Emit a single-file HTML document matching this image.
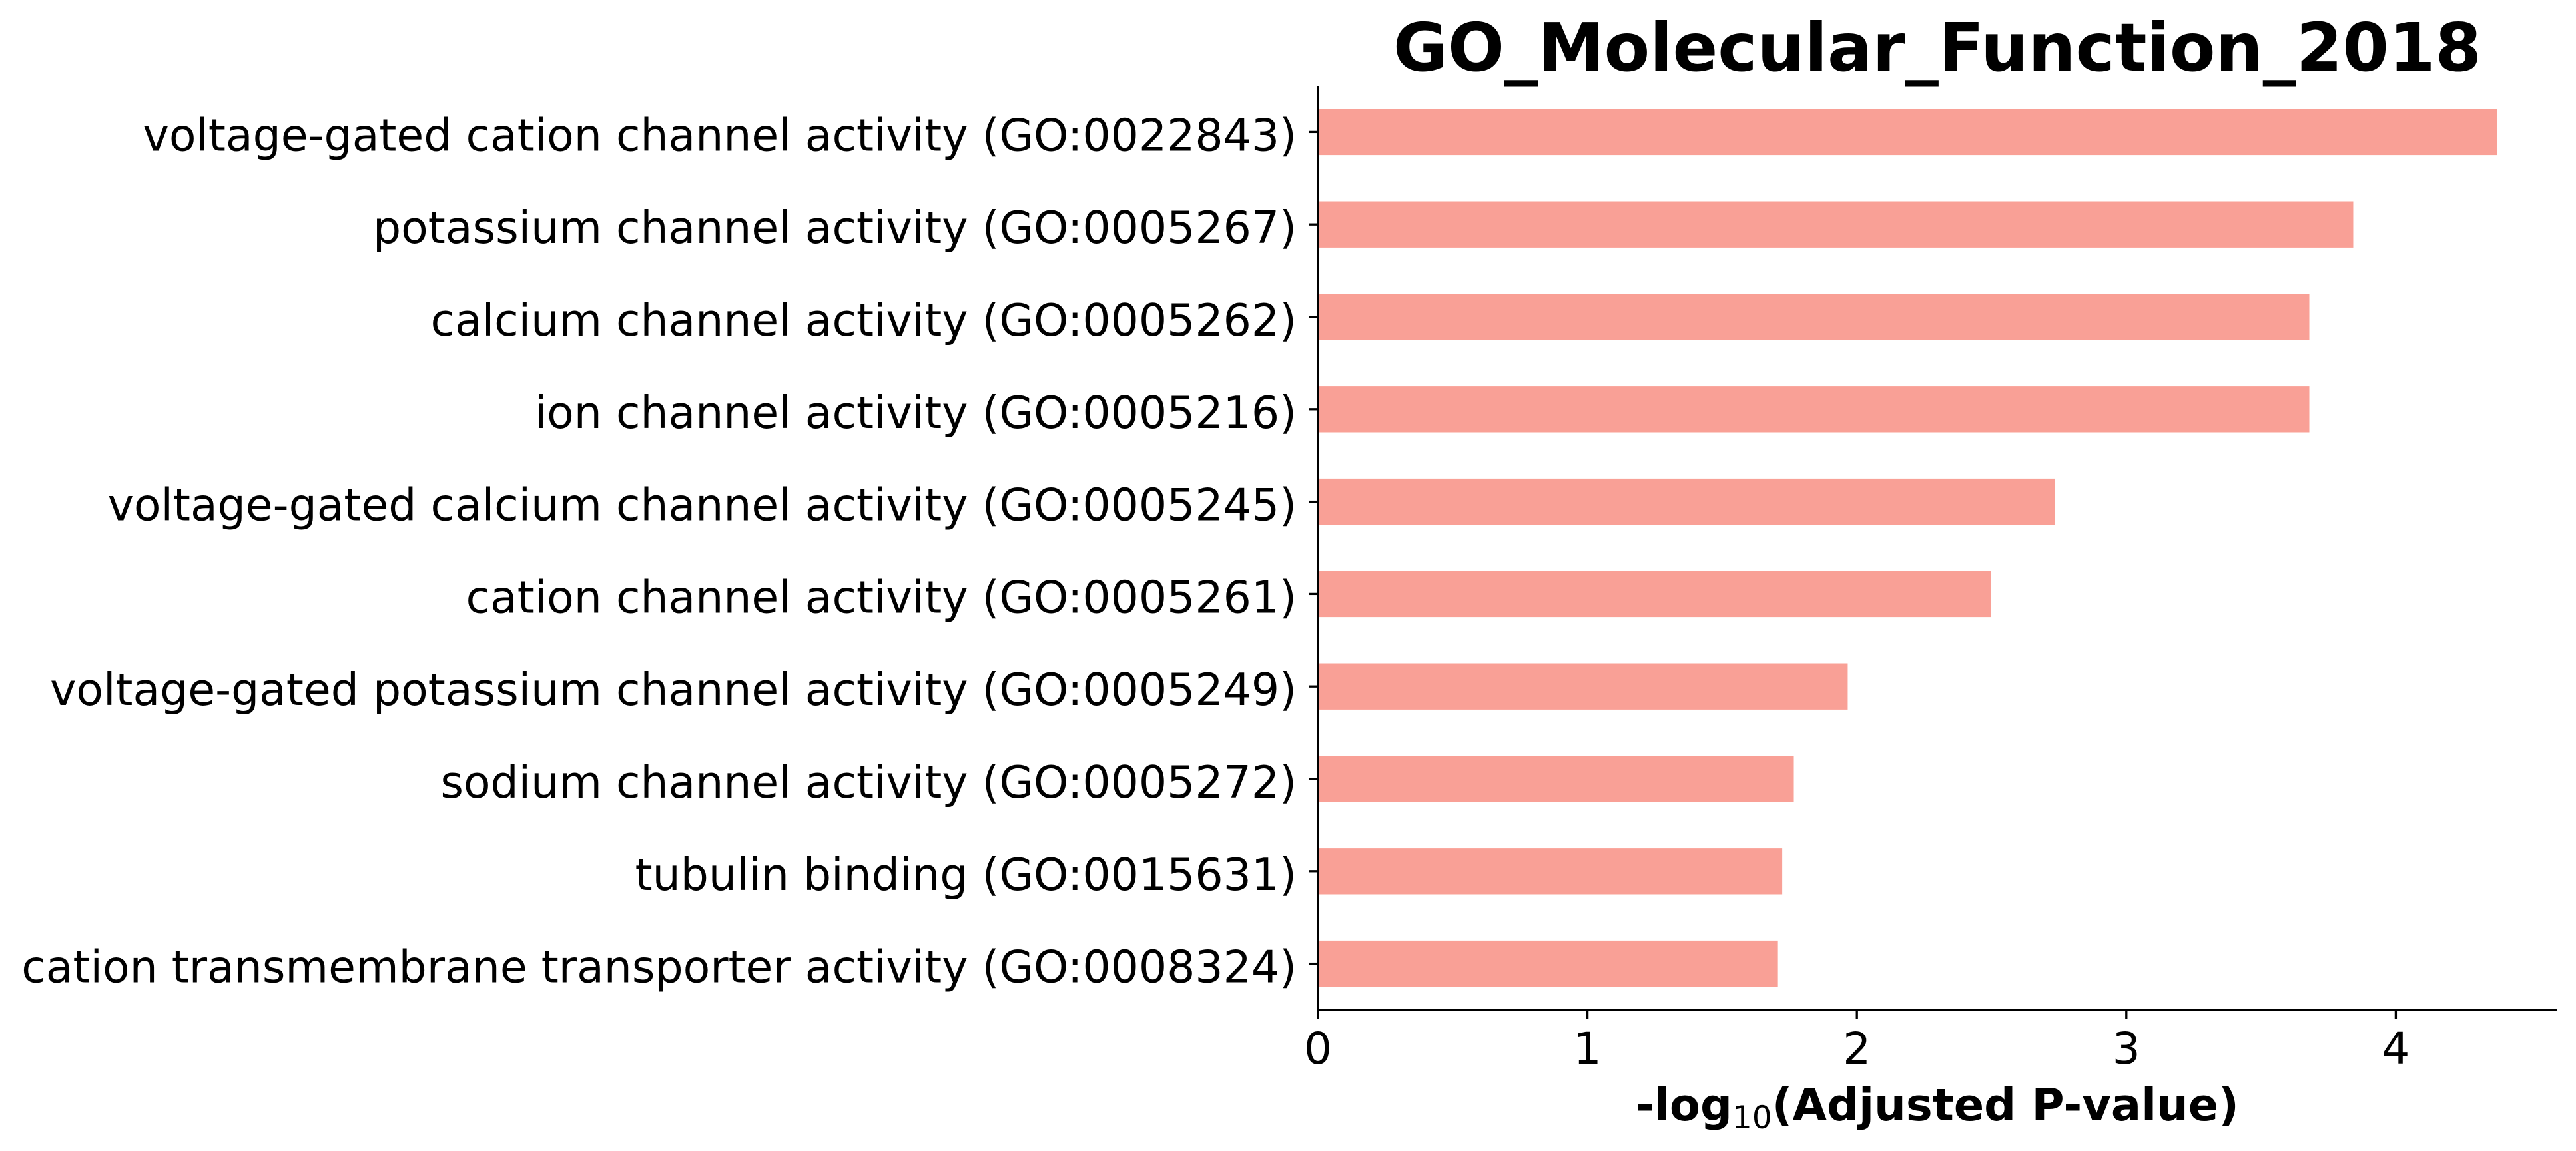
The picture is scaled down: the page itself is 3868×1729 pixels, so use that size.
<!DOCTYPE html>
<html><head><meta charset="utf-8">
<style>
html,body{margin:0;padding:0;background:#fff;}
svg{display:block;}
text{font-family:"DejaVu Sans","Liberation Sans",sans-serif;fill:#000;}
</style></head>
<body>
<svg id="chart" width="3868" height="1729" viewBox="0 0 3868 1729" xmlns="http://www.w3.org/2000/svg">
<rect width="3868" height="1729" fill="#fff"/>
<text x="2909" y="106" text-anchor="middle" font-size="100" font-weight="bold">GO_Molecular_Function_2018</text>
<g id="bars"></g>
<g id="yaxis"></g>
<g id="xaxis"></g>
<text x="2909" y="1683" text-anchor="middle" font-size="67" font-weight="bold">-log<tspan font-size="47" font-weight="normal" dy="12">10</tspan><tspan dy="-12">(Adjusted P-value)</tspan></text>
</svg>
<script>
const categories = [
"voltage-gated cation channel activity (GO:0022843)",
"potassium channel activity (GO:0005267)",
"calcium channel activity (GO:0005262)",
"ion channel activity (GO:0005216)",
"voltage-gated calcium channel activity (GO:0005245)",
"cation channel activity (GO:0005261)",
"voltage-gated potassium channel activity (GO:0005249)",
"sodium channel activity (GO:0005272)",
"tubulin binding (GO:0015631)",
"cation transmembrane transporter activity (GO:0008324)"
];
const values = [4.375, 3.842, 3.679, 3.679, 2.735, 2.497, 1.966, 1.766, 1.723, 1.707];
const xTicks = [0, 1, 2, 3, 4];
const xTickLabels = ["0", "1", "2", "3", "4"];

const NS = "http://www.w3.org/2000/svg";
const X0 = 1979, PXU = 404.6, XEND = 3839;
const YTOP = 129, YBOT = 1517;
const slot = (YBOT - YTOP) / categories.length;
function xScale(v){ return X0 + v * PXU; }
function yCenter(i){ return YTOP + slot * (i + 0.5); }
function mk(tag, attrs, parent){
  const el = document.createElementNS(NS, tag);
  for (const k in attrs) el.setAttribute(k, attrs[k]);
  parent.appendChild(el);
  return el;
}
const bars = document.getElementById('bars');
const yaxis = document.getElementById('yaxis');
const xaxis = document.getElementById('xaxis');

categories.forEach((c, i) => {
  const cy = yCenter(i);
  const h = slot * 0.5;
  const r = mk('rect', {x: xScale(0), y: cy - h/2, width: xScale(values[i]) - xScale(0), height: h, fill: '#f9a096'}, bars);
  
  
  const t = mk('line', {x1: X0 - 14, x2: X0, y1: cy, y2: cy, stroke: '#000', 'stroke-width': 3.3}, yaxis);
  
  
  const lb = mk('text', {x: 1947, y: cy + 28, 'text-anchor': 'end', 'font-size': 66.4}, yaxis);
  lb.textContent = c;
  
  
});

const yl = mk('line', {x1: X0, x2: X0, y1: YTOP, y2: YBOT + 1.6, stroke: '#000', 'stroke-width': 3.3}, yaxis);


const xl = mk('line', {x1: X0 - 1.6, x2: XEND, y1: YBOT, y2: YBOT, stroke: '#000', 'stroke-width': 3.3}, xaxis);



xTicks.forEach((v, i) => {
  const x = xScale(v);
  const t = mk('line', {x1: x, x2: x, y1: YBOT, y2: YBOT + 14, stroke: '#000', 'stroke-width': 3.3}, xaxis);
  
  
  const lb = mk('text', {x: x, y: 1598, 'text-anchor': 'middle', 'font-size': 66}, xaxis);
  lb.textContent = xTickLabels[i];
  
  
});
</script>
</body></html>
